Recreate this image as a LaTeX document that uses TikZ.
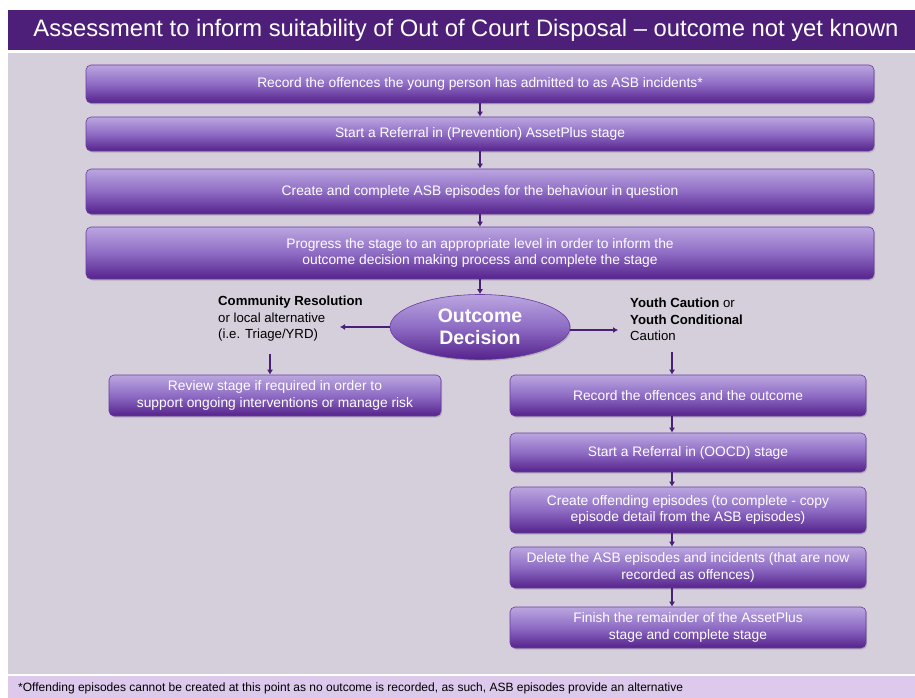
\documentclass[tikz,border=0pt]{standalone}
\usepackage{fontspec}
\setmainfont{Liberation Sans}
\usetikzlibrary{shadows,arrows.meta,shapes.geometric}
\definecolor{titlec}{HTML}{4E1F78}
\definecolor{bgc}{HTML}{D4CFDB}
\definecolor{footc}{HTML}{DDC9EC}
\definecolor{boxtop}{HTML}{BBA6E0}
\definecolor{boxmid}{HTML}{8E6CC4}
\definecolor{boxbot}{HTML}{55228C}
\definecolor{edgec}{HTML}{6A3AA0}
\definecolor{arrc}{HTML}{4B1E78}
\tikzset{
  box/.style={draw=edgec, line width=0.6pt, rounded corners=5pt,
    top color=boxtop, bottom color=boxbot, middle color=boxmid,
    text=white, align=center, inner sep=2pt,
    font=\fontsize{13.8}{16.5}\selectfont,
    drop shadow={shadow xshift=1.2pt, shadow yshift=-1.5pt, opacity=0.35}},
  arr/.style={draw=arrc, line width=1.6pt, -{Latex[length=5pt,width=6pt]}},
  lab/.style={align=left, text=black, anchor=north west, inner sep=0pt,
    font=\fontsize{13.2}{16.5}\selectfont},
}
\begin{document}
\begin{tikzpicture}[x=1pt,y=-1pt]
\useasboundingbox (0,0) rectangle (915,698);
\fill[white] (0,0) rectangle (915,698);
\fill[titlec] (8,10) rectangle (915,50);
\fill[bgc] (8,53) rectangle (915,674);
\fill[footc] (8,676) rectangle (915,698);
\node[text=white, font=\fontsize{23.8}{26}\selectfont] (title) at (466,30)
  {Assessment to inform suitability of Out of Court Disposal -- outcome not yet known};

\node[box, minimum width=788pt, minimum height=38pt] (b1) at (480,84)
  {Record the offences the young person has admitted to as ASB incidents*};
\node[box, minimum width=788pt, minimum height=34pt] (b2) at (480,134)
  {Start a Referral in (Prevention) AssetPlus stage};
\node[box, minimum width=788pt, minimum height=45pt] (b3) at (480,191.5)
  {Create and complete ASB episodes for the behaviour in question};
\node[box, minimum width=788pt, minimum height=52pt] (b4) at (480,253)
  {Progress the stage to an appropriate level in order to inform the\\outcome decision making process and complete the stage};

\node[draw=edgec, line width=0.6pt, ellipse, top color=boxtop, bottom color=boxbot, middle color=boxmid,
  minimum width=180pt, minimum height=65pt, inner sep=0pt, align=center, text=white,
  font=\fontsize{19.5}{22}\selectfont\bfseries,
  drop shadow={shadow xshift=1.2pt, shadow yshift=-1.5pt, opacity=0.35}] (od) at (480,327)
  {Outcome\\Decision};

\node[lab] (crl) at (218,296)
  {\textbf{Community Resolution}\\or local alternative\\(i.e. Triage/YRD)};
\node[lab] (ycl) at (630,298)
  {\textbf{Youth Caution} or\\\textbf{Youth Conditional}\\Caution};

\coordinate (crend) at (340,327);
\coordinate (ycend) at (618,330);

\node[box, minimum width=332pt, minimum height=41pt] (l1) at (275,395.5)
  {Review stage if required in order to\\support ongoing interventions or manage risk};

\node[box, minimum width=356pt, minimum height=41pt] (r1) at (688,395.5)
  {Record the offences and the outcome};
\node[box, minimum width=356pt, minimum height=39pt] (r2) at (688,452.5)
  {Start a Referral in (OOCD) stage};
\node[box, minimum width=356pt, minimum height=46pt] (r3) at (688,510)
  {Create offending episodes (to complete - copy\\episode detail from the ASB episodes)};
\node[box, minimum width=356pt, minimum height=41pt] (r4) at (688,567.5)
  {Delete the ASB episodes and incidents (that are now\\recorded as offences)};
\node[box, minimum width=356pt, minimum height=41pt] (r5) at (688,627.5)
  {Finish the remainder of the AssetPlus\\stage and complete stage};

\node[anchor=west, inner sep=0pt, font=\fontsize{12}{13}\selectfont] (foot) at (18,688)
  {*Offending episodes cannot be created at this point as no outcome is recorded, as such, ASB episodes provide an alternative};

\draw[arr] (b1.south -| 480,0) -- (b2.north -| 480,0);
\draw[arr] (b2) -- (b3);
\draw[arr] (b3) -- (b4);
\draw[arr] (b4) -- (od);
\draw[arr] (od.west) -- (crend);
\draw[arr] (od.east |- ycend) -- (ycend);
\draw[arr] (270,354) -- (l1.north -| 270,0);
\draw[arr] (672,352) -- (r1.north -| 672,0);
\draw[arr] (r1.south -| 672,0) -- (r2.north -| 672,0);
\draw[arr] (r2.south -| 672,0) -- (r3.north -| 672,0);
\draw[arr] (r3.south -| 672,0) -- (r4.north -| 672,0);
\draw[arr] (r4.south -| 672,0) -- (r5.north -| 672,0);
\end{tikzpicture}
\end{document}
